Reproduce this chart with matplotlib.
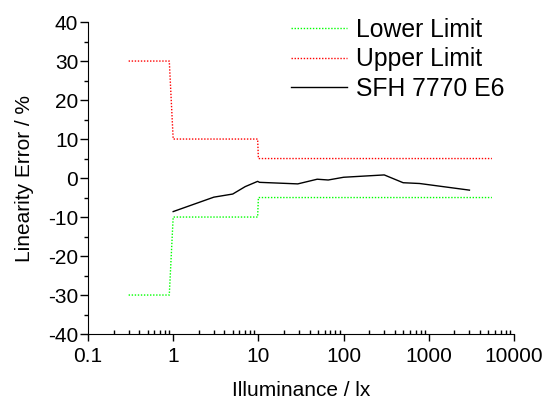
import numpy as np
import matplotlib
matplotlib.use("Agg")
import matplotlib.pyplot as plt
from matplotlib.ticker import LogLocator, FixedLocator, MultipleLocator, NullFormatter

plt.rcParams['font.family'] = ['Liberation Sans', 'DejaVu Sans']
plt.rcParams['axes.unicode_minus'] = False

# limit curves (step shaped)
limitX = [0.3, 0.9, 1.0, 9.8, 10.0, 5500]
upperY = [30, 30, 10, 10, 5, 5]
lowerY = [-30, -30, -10, -10, -5, -5]

# measured sensor
sensorX = [1.0, 3.0, 5.0, 7.0, 9.8, 10.3, 29, 49, 66, 100, 300, 500, 780, 3000]
sensorY = [-8.6, -4.9, -4.1, -2.2, -0.85, -1.1, -1.5, -0.3, -0.5, 0.2, 0.8, -1.2, -1.4, -3.1]

fig = plt.figure(figsize=(5.54, 4.01), dpi=100)
ax = fig.add_axes([0.1588, 0.167, 0.769, 0.778])

ax.plot(limitX, lowerY, color='#00ff00', lw=1, ls=(0, (1, 1.2)), label='Lower Limit')
ax.plot(limitX, upperY, color='#ff0000', lw=1, ls=(0, (1, 1.2)), label='Upper Limit')
ax.plot(sensorX, sensorY, color='black', lw=1, label='SFH 7770 E6')

ax.set_xscale('log')
ax.set_xlim(0.1, 10000)
ax.set_ylim(-40, 40)
ax.xaxis.set_major_locator(FixedLocator([0.1, 1, 10, 100, 1000, 10000]))
ax.set_xticklabels(['0.1', '1', '10', '100', '1000', '10000'])
ax.xaxis.set_minor_locator(LogLocator(base=10, subs=np.arange(2, 10)))
ax.xaxis.set_minor_formatter(NullFormatter())
ax.yaxis.set_major_locator(MultipleLocator(10))
ax.yaxis.set_minor_locator(MultipleLocator(5))

for s in ['top', 'right']:
    ax.spines[s].set_visible(False)
ax.tick_params(axis='x', which='major', direction='out', length=5, width=1, labelsize=15, pad=4)
ax.tick_params(axis='x', which='minor', direction='in', length=3, width=1)
ax.tick_params(axis='y', which='major', direction='out', length=6, width=1, labelsize=15, pad=1)
ax.tick_params(axis='y', which='minor', direction='out', length=3, width=1)

ax.set_xlabel('Illuminance / lx', fontsize=15, labelpad=11)
ax.set_ylabel('Linearity Error / %', fontsize=15, labelpad=10)

ax.legend(loc='upper right', bbox_to_anchor=(1.03, 1.085), frameon=False, fontsize=17.8,
          handlelength=2.3, handletextpad=0.35, labelspacing=0.22)

fig.savefig('out.png', dpi=100)
